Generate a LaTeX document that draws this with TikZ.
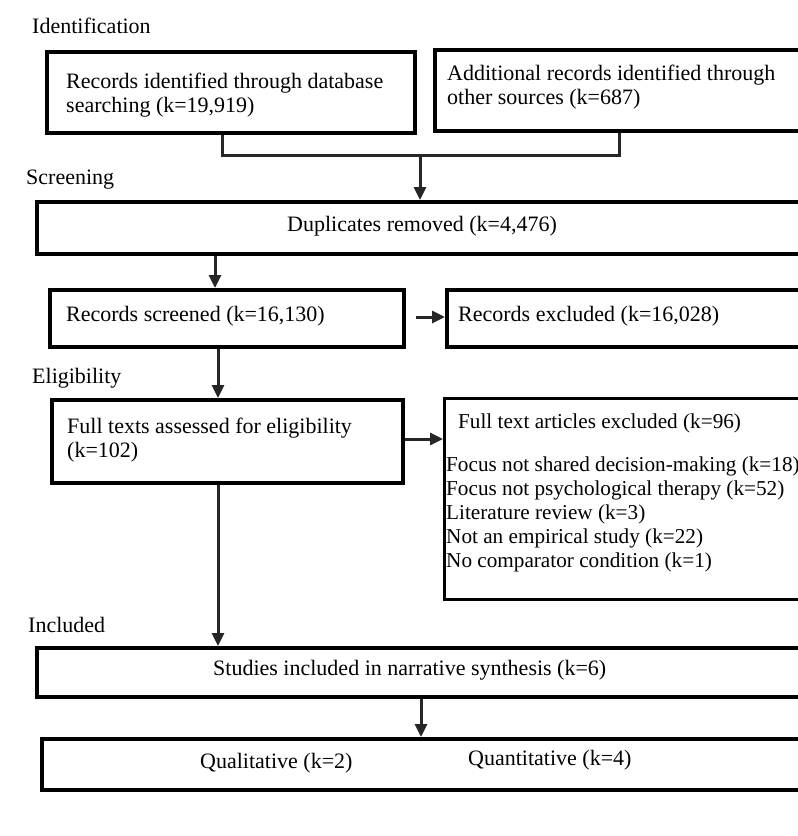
\documentclass[tikz,border=0pt]{standalone}
\usepackage{fontspec}
\setmainfont{Liberation Serif}
\usetikzlibrary{arrows.meta}
\tikzset{
  box/.style={draw=black, line width=4pt, rectangle, inner sep=0pt, anchor=north west, fill=white},
  thinbox/.style={box, line width=3pt},
  txt/.style={inner sep=0pt, align=left, font=\fontsize{22}{24}\selectfont},
  listtxt/.style={inner sep=0pt, align=left, font=\fontsize{21.2}{24}\selectfont},
  conn/.style={line width=3pt, draw=black!85},
  arr/.style={conn, -{Triangle[length=13pt,width=12pt]}},
}
\begin{document}
\begin{tikzpicture}[x=1pt,y=-1pt]
\useasboundingbox (0,0) rectangle (798,836);
\fill[white] (0,0) rectangle (798,836);
\clip (0,0) rectangle (798,836);

% stage labels
\node[txt, anchor=west] (lid) at (32,26) {Identification};
\node[txt, anchor=west] (lsc) at (26,180) {Screening};
\node[txt, anchor=west] (lel) at (32,378) {Eligibility};
\node[txt, anchor=west] (lin) at (28,625) {Included};

% boxes
\node[box, minimum width=368pt, minimum height=81pt] (b1) at (45,50) {};
\node[box, minimum width=400pt, minimum height=81pt] (b2) at (433,48) {};
\node[box, minimum width=800pt, minimum height=52pt] (b3) at (35,200) {};
\node[box, minimum width=354pt, minimum height=57pt] (b4) at (48,288) {};
\node[box, minimum width=400pt, minimum height=57pt] (b5) at (445,288) {};
\node[box, minimum width=351pt, minimum height=83pt] (b6) at (50,398) {};
\node[thinbox, minimum width=400pt, minimum height=201pt] (b7) at (443,397) {};
\node[box, minimum width=800pt, minimum height=49pt] (b8) at (35,646) {};
\node[box, minimum width=800pt, minimum height=51pt] (b9) at (40,737) {};

% texts
\node[txt, anchor=west] (t1) at (66,95) {Records identified through database\\searching (k=19,919)};
\node[txt, anchor=west] (t2) at (447,87) {Additional records identified through\\other sources (k=687)};
\node[txt, anchor=west] (t3) at (287,226) {Duplicates removed (k=4,476)};
\node[txt, anchor=west] (t4) at (66,316) {Records screened (k=16,130)};
\node[txt, anchor=west] (t5) at (458,316) {Records excluded (k=16,028)};
\node[txt, anchor=west] (t6) at (67,440) {Full texts assessed for eligibility\\(k=102)};
\node[listtxt, anchor=west] (t7) at (458,423) {Full text articles excluded (k=96)};
\node[listtxt, anchor=west] (t7b) at (446,514) {Focus not shared decision-making (k=18)\\Focus not psychological therapy (k=52)\\Literature review (k=3)\\Not an empirical study (k=22)\\No comparator condition (k=1)};
\node[txt, anchor=west] (t8) at (213,670) {Studies included in narrative synthesis (k=6)};
\node[txt, anchor=west] (t9a) at (200,763) {Qualitative (k=2)};
\node[txt, anchor=west] (t9b) at (468,760) {Quantitative (k=4)};

% connectors
\coordinate (j1) at (222,155);
\coordinate (j2) at (619,155);
\coordinate (jm) at (420,155);
\draw[conn] (b1.south -| j1) -- (j1) -- (j2) -- (b2.south -| j2);
\draw[arr] (jm) -- (jm |- b3.north);

\coordinate (x1) at (215,0);
\draw[arr] (b3.south -| x1) -- (b4.north -| x1);
\coordinate (x2) at (218,0);
\draw[arr] (b4.south -| x2) -- (b6.north -| x2);
\draw[arr] (b6.south -| x2) -- (b8.north -| x2);

\coordinate (y1) at (0,317);
\draw[arr, shorten <=10pt] (b4.east |- y1) -- (b5.west |- y1);
\coordinate (y2) at (0,439);
\draw[arr] (b6.east |- y2) -- (b7.west |- y2);

\coordinate (x3) at (421,0);
\draw[arr] (b8.south -| x3) -- (b9.north -| x3);
\end{tikzpicture}
\end{document}
